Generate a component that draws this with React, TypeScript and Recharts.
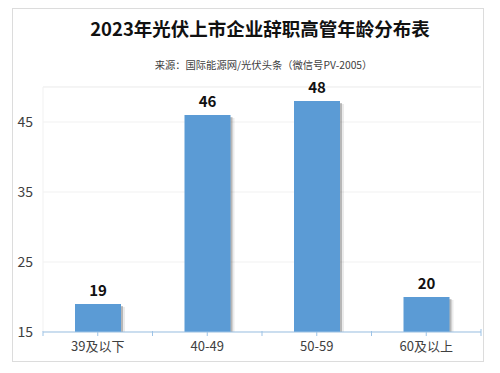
import { Bar, BarChart, CartesianGrid, LabelList, ReferenceLine, XAxis, YAxis } from "recharts";

const ageGroups = ["39及以下", "40-49", "50-59", "60及以上"];
const counts = [19, 46, 48, 20];
const yTicks = [15, 25, 35, 45];

const data = ageGroups.map((group, i) => ({ group, count: counts[i] }));

const FONT = '"Noto Sans CJK SC", "Noto Sans", sans-serif';
const AXIS_BLUE = "#9dc3e6";
const BAND = (481 - 43) / ageGroups.length;

function ShadowBar(props: any) {
  const { x, y, width, height, fill } = props;
  if (!height || height <= 0) return null;
  return (
    <g>
      <rect x={x + 4} y={y + 3} width={width} height={height - 3} fill="#000" opacity={0.08} />
      <rect x={x + 2} y={y + 2} width={width} height={height - 2} fill="#000" opacity={0.22} />
      <rect x={x} y={y} width={width} height={height} fill={fill} />
    </g>
  );
}

function CategoryTick(props: any) {
  const { x, y, payload, index } = props;
  const axisY = y - 8;
  return (
    <g>
      <line x1={x - BAND / 2} x2={x - BAND / 2} y1={axisY - 1} y2={axisY + 4} stroke={AXIS_BLUE} />
      {index === ageGroups.length - 1 && (
        <line x1={x + BAND / 2} x2={x + BAND / 2} y1={axisY - 3} y2={axisY + 4} stroke={AXIS_BLUE} />
      )}
      <text x={x} y={y} dy={11} textAnchor="middle" fontSize={13} fill="#404040" fontFamily={FONT}>
        {payload.value}
      </text>
    </g>
  );
}

export default function App() {
  return (
    <div style={{ position: "relative", width: 500, height: 373, margin: -8, background: "#fff", fontFamily: FONT }}>
      <div
        style={{
          position: "absolute",
          left: 12,
          top: 8,
          width: 470,
          height: 352,
          border: "1px solid #dcdcdc",
        }}
      />
      <div
        style={{
          position: "absolute",
          left: 0,
          width: 520,
          top: 14,
          textAlign: "center",
          fontSize: 18.5,
          fontWeight: 700,
          color: "#111",
          lineHeight: "28px",
        }}
      >
        2023年光伏上市企业辞职高管年龄分布表
      </div>
      <div
        style={{
          position: "absolute",
          left: 0,
          width: 527,
          top: 57,
          textAlign: "center",
          fontSize: 10.3,
          color: "#404040",
          lineHeight: "16px",
        }}
      >
        来源：国际能源网/光伏头条（微信号PV-2005）
      </div>
      <div style={{ position: "absolute", left: 0, top: 0 }}>
        <BarChart
          width={500}
          height={373}
          data={data}
          margin={{ top: 87, right: 19, left: 0, bottom: 11 }}
        >
          <CartesianGrid vertical={false} stroke="#f1f1f1" />
          <ReferenceLine y={50} stroke="#f1f1f1" />
          <XAxis
            dataKey="group"
            height={30}
            axisLine={{ stroke: AXIS_BLUE }}
            tickLine={{ stroke: AXIS_BLUE }}
            tickSize={4}
            tickMargin={4}
            tick={<CategoryTick />}
            interval={0}
          />
          <YAxis
            domain={[15, 50]}
            ticks={yTicks}
            width={43}
            axisLine={{ stroke: "#f1f1f1" }}
            tickLine={false}
            tickMargin={4}
            tick={{ fontSize: 14, fill: "#404040", fontFamily: FONT }}
          />
          <Bar dataKey="count" fill="#5b9bd5" barSize={46} isAnimationActive={false} shape={<ShadowBar />}>
            <LabelList
              dataKey="count"
              position="top"
              offset={8}
              style={{ fill: "#111", fontSize: 15, fontWeight: 700, fontFamily: FONT }}
            />
          </Bar>
        </BarChart>
      </div>
    </div>
  );
}
